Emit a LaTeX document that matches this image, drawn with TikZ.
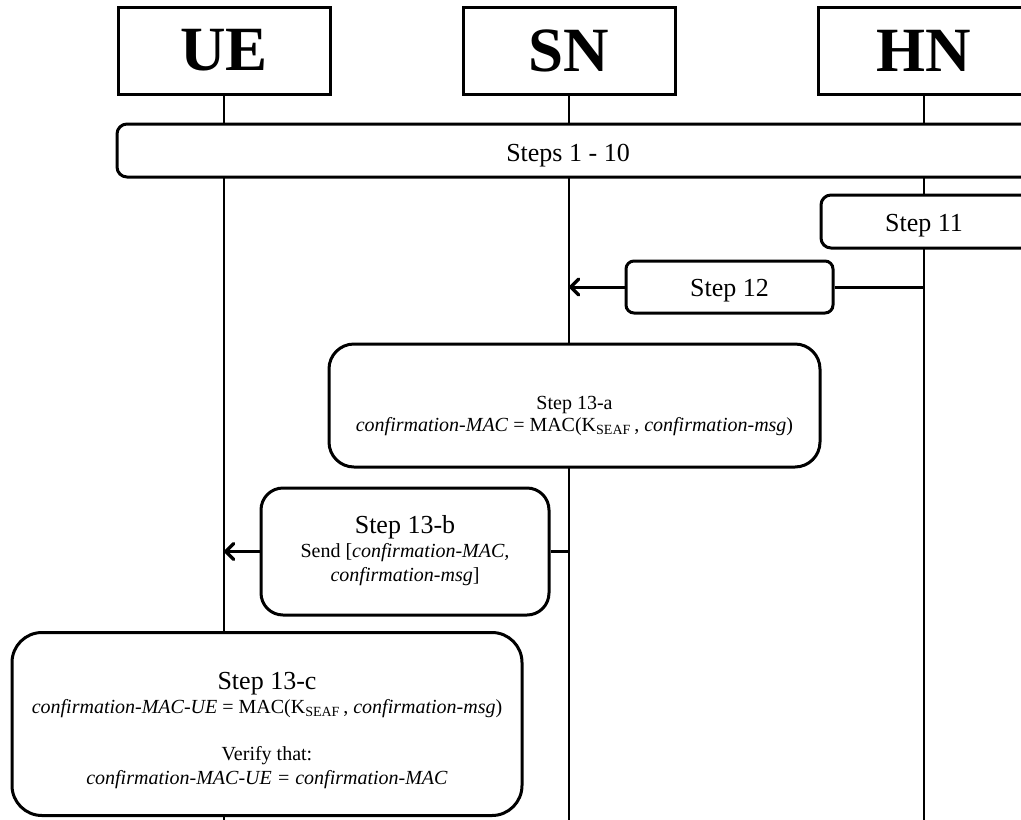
\documentclass[tikz,border=0pt]{standalone}
\usepackage{fontspec}
\setmainfont{Liberation Serif}
\usetikzlibrary{arrows.meta,backgrounds}
\begin{document}
\begin{tikzpicture}[x=1pt,y=-1pt,
  actor/.style={draw, line width=3pt, fill=white, minimum width=212pt,
    minimum height=87pt, inner sep=0pt,
    font=\fontsize{63}{63}\selectfont\bfseries},
  stepbox/.style={draw, line width=3pt, fill=white, inner sep=0pt},
  lifeline/.style={line width=2pt},
  msg/.style={line width=3pt},
  tip/.style={-{Straight Barb[length=8pt,width=16pt,line width=3.5pt,round]}},
  title/.style={font=\fontsize{26}{30}\selectfont, inner sep=0pt, anchor=base},
  body/.style={font=\fontsize{20}{23}\selectfont, inner sep=0pt, anchor=base}
]
\useasboundingbox (0,0) rectangle (1021,820);
\clip (0,0) rectangle (1021,820);

% participants
\node[actor] (ue) at (224,50.5) {\raisebox{-3pt}{UE}};
\node[actor] (sn) at (569,50.5) {\raisebox{-3pt}{SN}};
\node[actor] (hn) at (924,50.5) {\raisebox{-3pt}{HN}};

\coordinate (ueEnd) at (224,830);
\coordinate (snEnd) at (569,830);
\coordinate (hnEnd) at (924,830);

% steps 1 - 10 (spans all participants)
\node[stepbox, rounded corners=10pt, minimum width=940pt, minimum height=53pt]
  (s110) at (587,150.5) {};
\node[title] (s110t) at (568,161) {Steps 1 - 10};

% step 11 at the home network
\node[stepbox, rounded corners=10pt, minimum width=240pt, minimum height=53pt]
  (s11) at (941,221.5) {};
\node[title] (s11t) at (924,231) {Step 11};

% step 12: home network to serving network
\node[stepbox, rounded corners=8pt, minimum width=207pt, minimum height=52pt]
  (s12) at (729.5,287) {};
\node[title] (s12t) at (729.5,296) {Step 12};
\draw[msg] (s12.east -| hn) -- (s12.east);
\draw[msg,tip] (s12.west) -- (s12.west -| sn);

% step 13-a at the serving network
\node[stepbox, rounded corners=25pt, minimum width=491pt, minimum height=123pt]
  (s13a) at (574.5,405.5) {};
\node[body] (s13at) at (574.5,409) {Step 13-a};
\node[body] (s13af) at (574.5,431)
  {\textit{confirmation-MAC} = MAC(K\textsubscript{SEAF}\,, \textit{confirmation-msg})};

% step 13-b: serving network to UE
\node[stepbox, rounded corners=22pt, minimum width=288pt, minimum height=127pt]
  (s13b) at (405,551.5) {};
\node[title] (s13bt) at (405,533) {Step 13-b};
\node[body] (s13bl1) at (405,557) {Send [\textit{confirmation-MAC,}};
\node[body] (s13bl2) at (405,581) {\textit{confirmation-msg}]};
\draw[msg] (s13b.east -| sn) -- (s13b.east);
\draw[msg,tip] (s13b.west) -- (s13b.west -| ue);

% step 13-c at the UE
\node[stepbox, rounded corners=30pt, minimum width=510pt, minimum height=183pt]
  (s13c) at (267,724) {};
\node[title] (s13ct) at (267,689) {Step 13-c};
\node[body] (s13cf) at (267,713)
  {\textit{confirmation-MAC-UE} = MAC(K\textsubscript{SEAF}\,, \textit{confirmation-msg})};
\node[body] (s13cv) at (267,760) {Verify that:};
\node[body] (s13ce) at (267,784)
  {\textit{confirmation-MAC-UE = confirmation-MAC}};

% lifelines behind the boxes
\begin{scope}[on background layer]
  \draw[lifeline] (ue.south) -- (ueEnd);
  \draw[lifeline] (sn.south) -- (snEnd);
  \draw[lifeline] (hn.south) -- (hnEnd);
\end{scope}
\end{tikzpicture}
\end{document}
